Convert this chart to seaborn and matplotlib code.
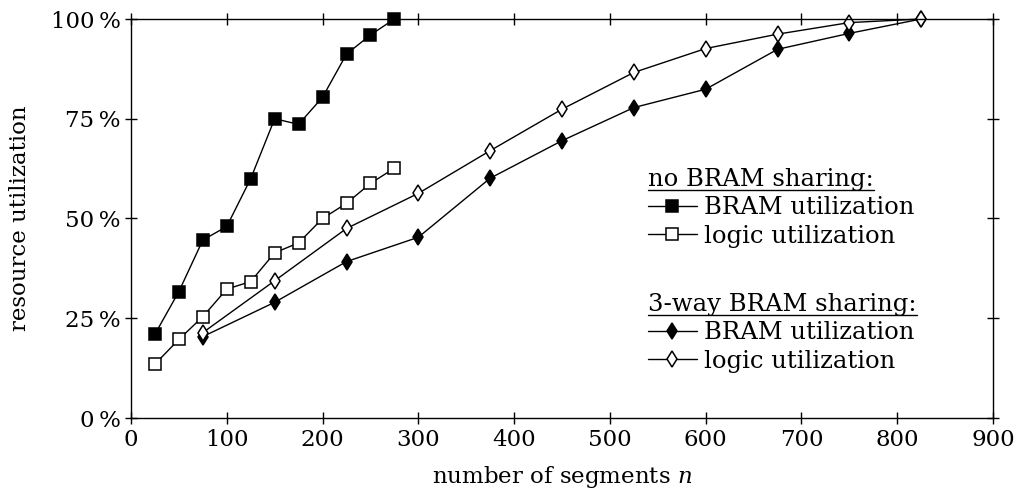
import matplotlib
matplotlib.use("Agg")
import matplotlib.pyplot as plt
import seaborn as sns
import numpy as np
from matplotlib.lines import Line2D

# ---- data ----
x_nobram = [25, 50, 75, 100, 125, 150, 175, 200, 225, 250, 275]
nobram_bram = [21.0, 31.7, 44.6, 48.0, 60.0, 75.0, 73.6, 80.4, 91.2, 96.0, 100.0]
nobram_logic = [13.5, 19.7, 25.4, 32.3, 34.2, 41.4, 43.9, 50.0, 53.8, 58.8, 62.6]

x_share = [75, 150, 225, 300, 375, 450, 525, 600, 675, 750, 825]
share_bram = [20.4, 29.0, 39.2, 45.3, 60.1, 69.5, 77.8, 82.4, 92.4, 96.4, 100.0]
share_logic = [21.4, 34.4, 47.5, 56.3, 67.0, 77.4, 86.6, 92.6, 96.2, 99.1, 100.0]

x_ticks = [0, 100, 200, 300, 400, 500, 600, 700, 800, 900]
y_ticks = [0, 25, 50, 75, 100]
y_ticklabels = ["0\u2009%", "25\u2009%", "50\u2009%", "75\u2009%", "100\u2009%"]

header1 = "no BRAM sharing:"
header2 = "3-way BRAM sharing:"
lbl_bram = "BRAM utilization"
lbl_logic = "logic utilization"

# ---- style ----
sns.set_style("ticks")
plt.rcParams["font.family"] = ["DejaVu Serif"]
plt.rcParams["mathtext.fontset"] = "dejavuserif"
plt.rcParams["text.color"] = "black"
plt.rcParams["axes.labelcolor"] = "black"
FS = 16.5
LFS = 17.5

fig = plt.figure(figsize=(10.17, 4.98), dpi=100)
ax = fig.add_axes([131/1017, 1-418/498, (993-131)/1017, (418-19)/498])

lw = 1.0
sq = 8.5
dm = 7.8
mew = 1.1
sns.lineplot(x=x_nobram, y=nobram_bram, ax=ax, color="black", lw=lw,
             marker="s", markersize=sq, markerfacecolor="black",
             markeredgecolor="black", markeredgewidth=mew)
sns.lineplot(x=x_nobram, y=nobram_logic, ax=ax, color="black", lw=lw,
             marker="s", markersize=sq, markerfacecolor="white",
             markeredgecolor="black", markeredgewidth=mew)
sns.lineplot(x=x_share, y=share_bram, ax=ax, color="black", lw=lw,
             marker="d", markersize=dm, markerfacecolor="black",
             markeredgecolor="black", markeredgewidth=mew)
sns.lineplot(x=x_share, y=share_logic, ax=ax, color="black", lw=lw,
             marker="d", markersize=dm, markerfacecolor="white",
             markeredgecolor="black", markeredgewidth=mew)
for ln in ax.lines:
    ln.set_clip_on(False)

ax.set_xlim(0, 900)
ax.set_ylim(0, 100)
ax.set_xticks(x_ticks)
ax.set_yticks(y_ticks)
ax.set_yticklabels(y_ticklabels)
ax.tick_params(axis="both", which="both", direction="inout", length=8, width=1,
               top=True, right=True, labelsize=FS, colors="black")
ax.tick_params(axis="x", pad=4)
for s in ax.spines.values():
    s.set_visible(True)
    s.set_linewidth(1.0)
    s.set_color("black")
ax.set_xlabel("number of segments $n$", fontsize=FS, labelpad=9, color="black")
ax.set_ylabel("resource utilization", fontsize=FS, labelpad=14, color="black")

def h(marker, fc, ms):
    return Line2D([], [], color="black", lw=lw, marker=marker, markersize=ms,
                  markerfacecolor=fc, markeredgecolor="black", markeredgewidth=mew)

common = dict(frameon=False, fontsize=LFS, title_fontsize=LFS, alignment="left",
              handlelength=2.0, handletextpad=0.3, borderpad=0, borderaxespad=0,
              labelspacing=0.22, labelcolor="black")
leg1 = ax.legend([h("s", "black", sq), h("s", "white", sq)], [lbl_bram, lbl_logic],
                 title=header1, loc="upper left",
                 bbox_to_anchor=((648-131)/862, 1-(168-19)/399), **common)
ax.add_artist(leg1)
leg2 = ax.legend([h("d", "black", dm), h("d", "white", dm)], [lbl_bram, lbl_logic],
                 title=header2, loc="upper left",
                 bbox_to_anchor=((648-131)/862, 1-(293-19)/399), **common)
for lg in (leg1, leg2):
    lg.get_title().set_color("black")

fig.canvas.draw()
r = fig.canvas.get_renderer()
for lg in (leg1, leg2):
    bb = lg.get_title().get_window_extent(r)
    inv = fig.transFigure.inverted()
    (x0, y0), (x1, y1) = inv.transform([(bb.x0, bb.y0 + 1), (bb.x1, bb.y0 + 1)])
    fig.add_artist(Line2D([x0, x1], [y0, y1], color="black", lw=1.0))

fig.savefig("out.png", dpi=100)
